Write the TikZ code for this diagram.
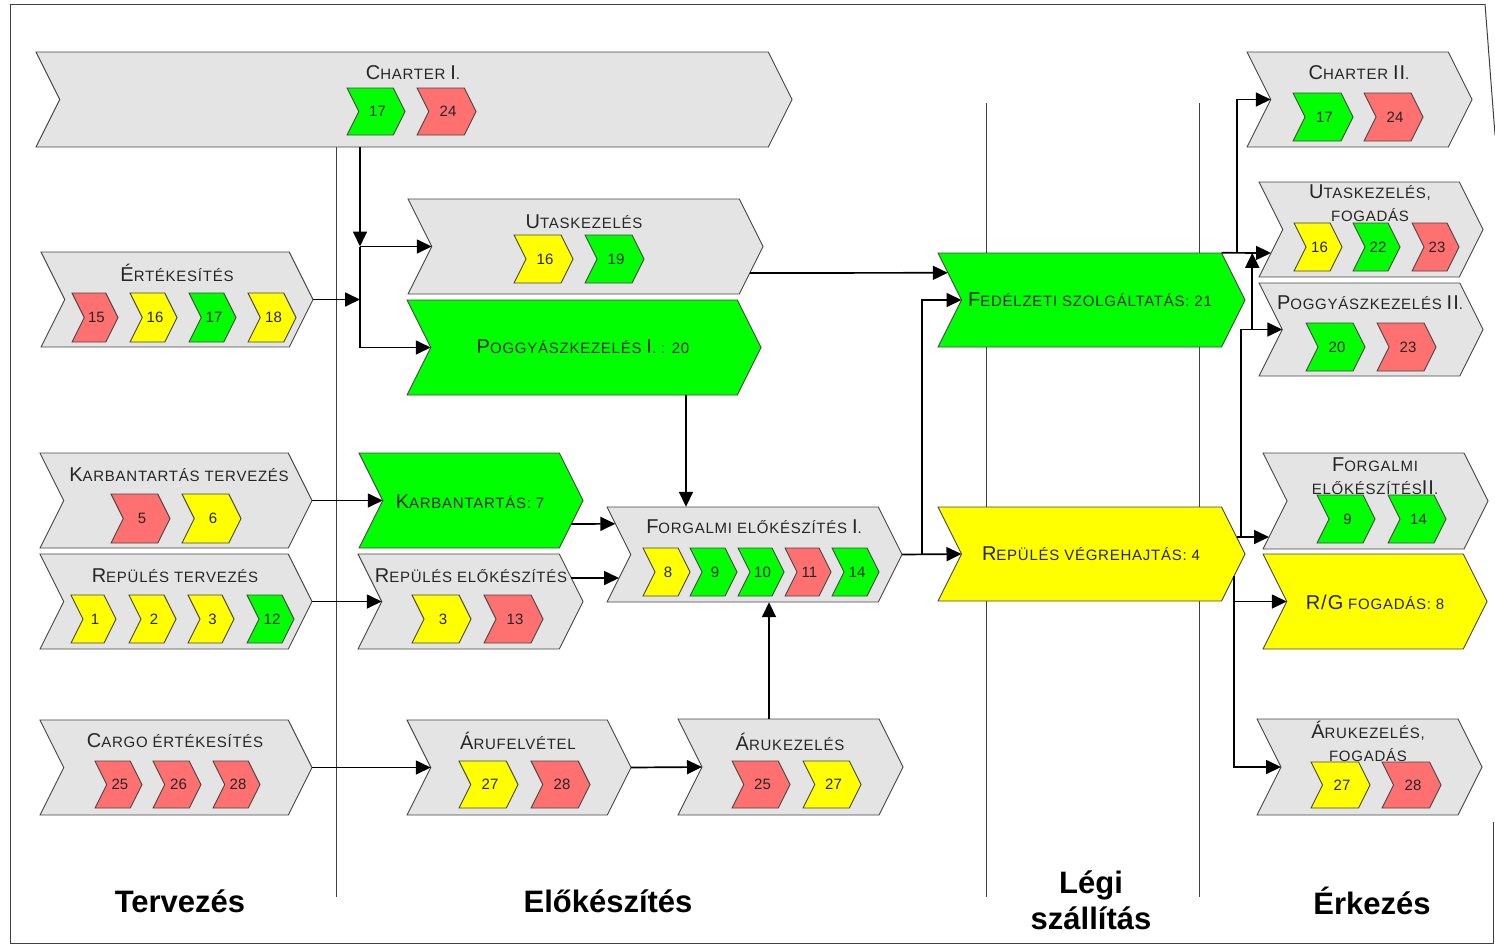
\documentclass[tikz,border=0pt]{standalone}
\usepackage{fontspec}
\setmainfont{Liberation Sans}
\newfontfamily\labfont[LetterSpace=5]{Liberation Sans}
\usetikzlibrary{arrows.meta,fit,calc}

\definecolor{chgray}{RGB}{228,228,228}
\definecolor{chgreen}{RGB}{0,255,0}
\definecolor{chyellow}{RGB}{255,255,0}
\definecolor{chred}{RGB}{255,112,112}
\definecolor{chline}{RGB}{70,70,70}

% large initial letter of the small-caps labels
\newcommand\Lg[1]{{\fontsize{20}{20}\selectfont #1}}

% chevron: [style]{name}{left x}{top y}{tip x}{bottom y}
\newcommand\chev[6][]{%
  \pgfmathsetmacro\chD{0.25*(#6-#4)}%
  \pgfmathsetmacro\chM{0.5*(#4+#6)}%
  \path[chevshape,#1] (#3,#4) -- ({#5-\chD},#4) -- (#5,\chM) -- ({#5-\chD},#6)
     -- (#3,#6) -- ({#3+\chD},\chM) -- cycle;
  \node[fit={(#3,#4) (#5,#6)}, inner sep=0pt] (#2) {};
  \coordinate (#2-in) at ({#3+\chD},\chM);
}
% numbered badge: {name}{colour}{left x}{top y}{tip x}{bottom y}{number}
\newcommand\badge[7]{%
  \chev[fill=#2]{#1}{#3}{#4}{#5}{#6}%
  \node[num] (#1-n) at ([xshift=1.5pt]#1.center) {#7};
}

\tikzset{
  chevshape/.style={draw=chline, line width=0.9pt, fill=chgray, line join=miter},
  lab/.style={font=\labfont\fontsize{15}{23}\selectfont, text=black!85, inner sep=0pt, align=center},
  num/.style={font=\fontsize{15}{15}\selectfont, text=black!85, inner sep=0pt},
  conn/.style={line width=1.7pt, black},
  arr/.style={conn, -{Triangle[length=15pt,width=14pt]}},
  sep/.style={line width=0.9pt, black!75},
  border/.style={line width=1pt, black!75},
  title/.style={font=\bfseries\fontsize{31}{36}\selectfont, align=center, inner sep=0pt},
}

\begin{document}
\begin{tikzpicture}[x=1pt, y=-1pt]
\useasboundingbox (0,0) rectangle (1495,945);

% frame
\draw[border] (1485,4) -- (10,4) -- (10,943) -- (1493,943) -- (1493,822);
\draw[border] (1485,4) -- (1495,135);

% lane separators
\draw[sep] (336,103) -- (336,897);
\draw[sep] (986,103) -- (986,897);
\draw[sep] (1199,103) -- (1199,897);

% ---------- Tervezés ----------
\chev{ch1}{36}{52}{792}{147}
\node[lab] (ch1-t) at (413,73) {\Lg{C}HARTER \Lg{I}.};
\badge{ch1a}{chgreen}{347}{88}{405}{135}{17}
\badge{ch1b}{chred}{417}{88}{476}{135}{24}

\chev{ert}{41}{252}{313}{347}
\node[lab] (ert-t) at (177,273) {\Lg{É}RTÉKESÍTÉS};
\badge{erta}{chred}{72}{293}{118}{342}{15}
\badge{ertb}{chyellow}{130}{293}{177}{342}{16}
\badge{ertc}{chgreen}{189}{293}{236}{342}{17}
\badge{ertd}{chyellow}{248}{293}{296}{342}{18}

\chev{kt}{40}{453}{312}{548}
\node[lab] (kt-t) at (179,475) {\Lg{K}ARBANTARTÁS TERVEZÉS};
\badge{kta}{chred}{111}{494}{170}{543}{5}
\badge{ktb}{chyellow}{182}{494}{241}{543}{6}

\chev{rt}{40}{554}{312}{649}
\node[lab] (rt-t) at (175,576) {\Lg{R}EPÜLÉS TERVEZÉS};
\badge{rta}{chyellow}{71}{595}{116}{643}{1}
\badge{rtb}{chyellow}{129}{595}{176}{643}{2}
\badge{rtc}{chyellow}{188}{595}{234}{643}{3}
\badge{rtd}{chgreen}{247}{595}{294}{643}{12}

\chev{cargo}{40}{720}{312}{815}
\node[lab] (cargo-t) at (175,741) {\Lg{C}ARGO ÉRTÉKESÍTÉS};
\badge{cargoa}{chred}{95}{761}{142}{808}{25}
\badge{cargob}{chred}{153}{761}{201}{808}{26}
\badge{cargoc}{chred}{213}{761}{260}{808}{28}

% ---------- Előkészítés ----------
\chev{uta}{408}{199}{763}{294}
\node[lab] (uta-t) at (584,222) {\Lg{U}TASKEZELÉS};
\badge{utaa}{chyellow}{514}{235}{573}{283}{16}
\badge{utab}{chgreen}{585}{235}{644}{283}{19}

\chev[fill=chgreen]{pog1}{407}{300}{761}{395}
\node[lab] (pog1-t) at (583,347) {\Lg{P}OGGYÁSZKEZELÉS \Lg{I}. : 20};

\chev[fill=chgreen]{kb}{359}{453}{583}{548}
\node[lab] (kb-t) at (470,502) {\Lg{K}ARBANTARTÁS: 7};

\chev{re}{358}{554}{583}{649}
\node[lab] (re-t) at (471,576) {\Lg{R}EPÜLÉS ELŐKÉSZÍTÉS};
\badge{rea}{chyellow}{412}{595}{471}{643}{3}
\badge{reb}{chred}{484}{595}{543}{643}{13}

\chev{fo1}{607}{507}{902}{602}
\node[lab] (fo1-t) at (754,527) {\Lg{F}ORGALMI ELŐKÉSZÍTÉS \Lg{I}.};
\badge{fo1a}{chyellow}{643}{548}{690}{596}{8}
\badge{fo1b}{chgreen}{690}{548}{737}{596}{9}
\badge{fo1c}{chgreen}{738}{548}{784}{596}{10}
\badge{fo1d}{chred}{785}{548}{831}{596}{11}
\badge{fo1e}{chgreen}{832}{548}{879}{596}{14}

\chev{aruf}{407}{720}{631}{815}
\node[lab] (aruf-t) at (518,741) {\Lg{Á}RUFELVÉTEL};
\badge{arufa}{chyellow}{459}{761}{518}{808}{27}
\badge{arufb}{chred}{531}{761}{590}{808}{28}

\chev{aruk}{678}{719}{903}{815}
\node[lab] (aruk-t) at (790,742) {\Lg{Á}RUKEZELÉS};
\badge{aruka}{chred}{732}{761}{790}{808}{25}
\badge{arukb}{chyellow}{803}{761}{861}{808}{27}

% ---------- Légi szállítás ----------
\chev[fill=chgreen]{fed}{938}{253}{1245}{347}
\node[lab] (fed-t) at (1090,300) {\Lg{F}EDÉLZETI SZOLGÁLTATÁS: 21};

\chev[fill=chyellow]{rv}{938}{507}{1245}{601}
\node[lab] (rv-t) at (1091,554) {\Lg{R}EPÜLÉS VÉGREHAJTÁS: 4};

% ---------- Érkezés ----------
\chev{ch2}{1247}{52}{1472}{147}
\node[lab] (ch2-t) at (1359,73) {\Lg{C}HARTER \Lg{II}.};
\badge{ch2a}{chgreen}{1293}{93}{1353}{141}{17}
\badge{ch2b}{chred}{1364}{93}{1423}{141}{24}

\chev{ufog}{1259}{182}{1483}{277}
\node[lab] (ufog-t) at (1370,203) {\Lg{U}TASKEZELÉS,\\FOGADÁS};
\badge{ufoga}{chyellow}{1294}{223}{1342}{271}{16}
\badge{ufogb}{chgreen}{1353}{223}{1400}{271}{22}
\badge{ufogc}{chred}{1412}{223}{1459}{271}{23}

\chev{pog2}{1259}{283}{1483}{376}
\node[lab] (pog2-t) at (1370,303) {\Lg{P}OGGYÁSZKEZELÉS \Lg{II}.};
\badge{pog2a}{chgreen}{1306}{323}{1365}{371}{20}
\badge{pog2b}{chred}{1377}{323}{1436}{371}{23}

\chev{fo2}{1263}{453}{1488}{549}
\node[lab] (fo2-t) at (1375,476) {\Lg{F}ORGALMI\\ELŐKÉSZÍTÉS\Lg{II}.};
\badge{fo2a}{chgreen}{1317}{495}{1375}{543}{9}
\badge{fo2b}{chgreen}{1388}{495}{1446}{543}{14}

\chev[fill=chyellow]{rg}{1263}{554}{1487}{649}
\node[lab] (rg-t) at (1375,602) {\Lg{R/G} FOGADÁS: 8};

\chev{aruf2}{1257}{719}{1482}{815}
\node[lab] (aruf2-t) at (1368,741) {\Lg{Á}RUKEZELÉS,\\FOGADÁS};
\badge{aruf2a}{chyellow}{1311}{762}{1370}{808}{27}
\badge{aruf2b}{chred}{1382}{762}{1441}{808}{28}

% ---------- connectors ----------
\coordinate (j1) at (360,246.5);
\draw[arr] (j1 |- ch1.south) -- (j1);
\draw[arr] (ert.east) -- (ert.east -| j1);
\draw[conn] (j1) -- (j1 |- pog1-in);
\draw[arr] (j1) -- (uta-in);
\draw[arr] (j1 |- pog1-in) -- (pog1-in);

\draw[arr] (kt.east) -- (kb-in);
\draw[arr] (rt.east) -- (re-in);
\draw[arr] ([xshift=-11.75pt,yshift=-23.5pt]kb.east) -- ([xshift=8.5pt,yshift=-17pt]fo1.north west);
\draw[arr] ([xshift=-11.75pt,yshift=23.5pt]re.east) -- ([xshift=-11.75pt,yshift=-23.5pt]fo1-in);

\coordinate (p1) at ([xshift=102pt]pog1.south);
\draw[arr] (p1) -- (p1 |- fo1.north);
\coordinate (p2) at ([xshift=-21.5pt]aruk.north);
\draw[arr] (p2) -- (p2 |- fo1.south);

\draw[arr] (cargo.east) -- (aruf-in);
\draw[arr] (aruf.east) -- (aruk-in);

\draw[arr] ([xshift=-13.25pt,yshift=-26.5pt]uta.east) -- ([xshift=10pt,yshift=-20pt]fed.north west);

\draw[arr] (fo1.east) -- (rv-in);
\coordinate (j2) at ([xshift=19.5pt]fo1.east);
\draw[arr] (j2) |- (fed-in);

\coordinate (j3) at ([xshift=-23.5pt]fed.north east);
\coordinate (j4) at ([xshift=15.5pt]j3);
\draw[arr] (j3) -- ([xshift=-11.75pt,yshift=-23.5pt]ufog-in);
\draw[arr] (j4) |- (ch2-in);

\draw[arr] ([xshift=-8.5pt,yshift=17pt]rv.east) -- ([xshift=-18pt,yshift=-36pt]fo2-in);
\coordinate (j5) at ([xshift=-4pt,yshift=17pt]rv.east);
\draw[arr] (j5) |- (pog2-in);
\coordinate (j6) at ([xshift=-30pt]pog2-in);
\draw[arr] (j6) -- (j6 |- j3);

\coordinate (j7) at ([xshift=-11pt,yshift=-22pt]rv.east);
\draw[arr] (j7) |- (rg-in);
\draw[arr] (j7) |- (aruf2-in);

% ---------- lane titles ----------
\node[title] (tTerv) at (180,901) {Tervezés};
\node[title] (tElo) at (608,901) {Előkészítés};
\node[title] (tLegi) at (1091,900) {Légi\\szállítás};
\node[title] (tErk) at (1372,901) {Érkezés};
\end{tikzpicture}
\end{document}
